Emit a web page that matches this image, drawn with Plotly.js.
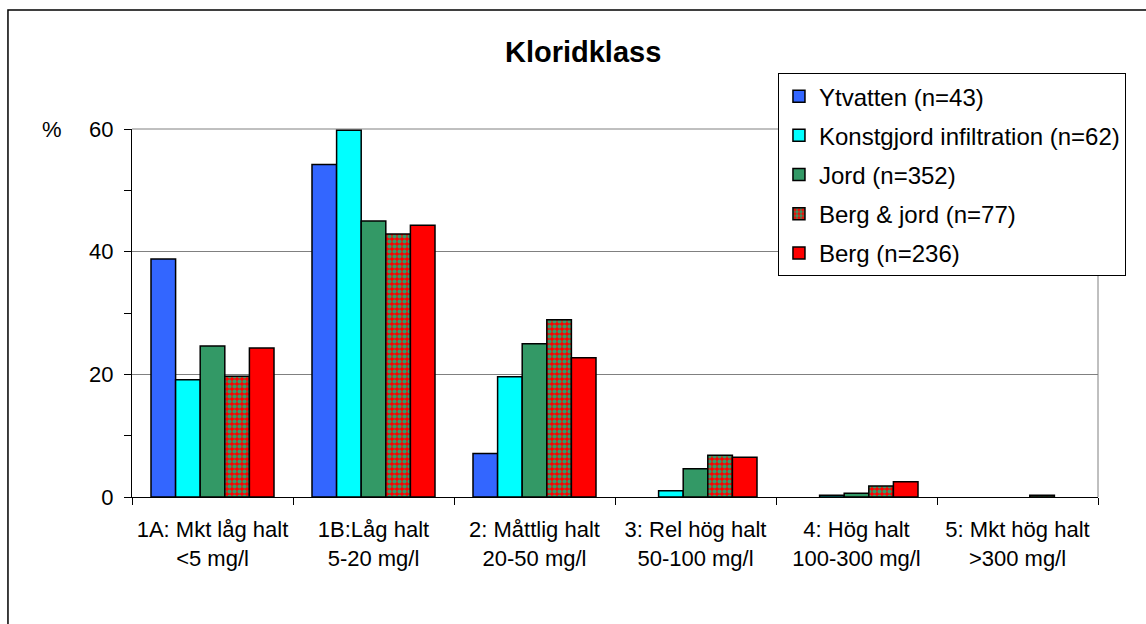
<!DOCTYPE html>
<html>
<head>
<meta charset="utf-8">
<script src="https://cdn.plot.ly/plotly-3.0.1.min.js"></script>
<style>html,body{margin:0;padding:0;background:#fff;}#chart{width:1146px;height:624px;}</style>
</head>
<body>
<div id="chart"></div>
<script>
const categories = [
  '1A: Mkt låg halt<br>&lt;5 mg/l',
  '1B:Låg halt<br>5-20 mg/l',
  '2: Måttlig halt<br>20-50 mg/l',
  '3: Rel hög halt<br>50-100 mg/l',
  '4: Hög halt<br>100-300 mg/l',
  '5: Mkt hög halt<br>&gt;300 mg/l'
];
const seriesNames = ['Ytvatten (n=43)', 'Konstgjord infiltration (n=62)', 'Jord (n=352)', 'Berg & jord (n=77)', 'Berg (n=236)'];
const ytvatten    = [38.8, 54.2, 7.1, 0, 0, 0];
const konstgjord  = [19.1, 59.8, 19.6, 1.0, 0.3, 0];
const jord        = [24.6, 45.0, 25.0, 4.6, 0.6, 0];
const bergJord    = [19.7, 42.9, 28.9, 6.8, 1.8, 0.3];
const berg        = [24.3, 44.3, 22.7, 6.5, 2.5, 0];
const yTickVals = [0, 20, 40, 60];

const FONT = 'Liberation Sans, Arial, sans-serif';
const values = [ytvatten, konstgjord, jord, bergJord, berg];
const colors = ['#3366FF', '#00FFFF', '#339966', '#FF0000', '#FF0000'];

const traces = values.map((v, i) => {
  const t = {
    type: 'bar', x: categories, y: v.map(d => (d === 0 ? null : d)), name: seriesNames[i],
    legendgroup: 'g' + i,
    marker: { color: colors[i], line: { color: '#000000', width: 1.5 } }
  };
  if (i === 3) {
    t.marker.pattern = { shape: '.', bgcolor: '#FF0000', fgcolor: '#339966', size: 5, solidity: 0.55, fillmode: 'replace' };
  }
  return t;
});

const layout = {
  width: 1146, height: 624,
  margin: { l: 132, r: 48, t: 129, b: 127, pad: 0 },
  paper_bgcolor: '#ffffff', plot_bgcolor: '#ffffff',
  font: { family: FONT, color: '#000000', size: 22 },
  title: { text: '<b>Kloridklass</b>', font: { family: FONT, size: 29, color: '#000' },
           x: 0.467, xref: 'paper', xanchor: 'center', y: 0.917, yref: 'container', yanchor: 'middle' },
  barmode: 'group', bargap: 0.236, bargroupgap: 0,
  showlegend: true,
  legend: {
    x: 0.6687, xanchor: 'left', y: 1.152, yanchor: 'top', xref: 'paper', yref: 'paper',
    bgcolor: '#ffffff', bordercolor: '#000000', borderwidth: 1,
    font: { family: FONT, size: 24, color: '#000' },
    traceorder: 'grouped', tracegroupgap: 5
  },
  xaxis: {
    type: 'category', tickson: 'boundaries', ticks: 'outside', ticklen: 7, tickcolor: '#000', tickwidth: 1,
    showline: true, linecolor: '#000', linewidth: 1, showgrid: false, zeroline: false,
    ticklabelstandoff: 13,
    tickfont: { family: FONT, size: 22, color: '#000' }, fixedrange: true
  },
  yaxis: {
    range: [0, 60], tickvals: yTickVals, ticks: 'outside', ticklen: 7, tickcolor: '#000', tickwidth: 1,
    showline: true, linecolor: '#000', linewidth: 1, showgrid: true, gridcolor: '#808080', gridwidth: 1,
    zeroline: false, ticklabelstandoff: 6,
    minor: { dtick: 10, ticks: 'outside', ticklen: 7, tickcolor: '#000', showgrid: false },
    tickfont: { family: FONT, size: 22, color: '#000' }, fixedrange: true
  },
  annotations: [
    { text: '%', xref: 'paper', yref: 'y', x: -0.083, y: 60, xanchor: 'center', yanchor: 'middle', showarrow: false,
      font: { family: FONT, size: 22, color: '#000' } }
  ],
  shapes: [
    { type: 'line', xref: 'paper', yref: 'paper', x0: 1, x1: 1, y0: 0, y1: 1, line: { color: '#808080', width: 1 } },
    { type: 'line', xref: 'paper', yref: 'paper', x0: 0, x1: 1, y0: 1, y1: 1, line: { color: '#808080', width: 1 }, layer: 'below' },
    { type: 'rect', xref: 'paper', yref: 'paper', x0: -0.1284, x1: 1.2, y0: -0.6, y1: 1.3234, line: { color: '#000000', width: 1.5 }, fillcolor: 'rgba(0,0,0,0)', layer: 'below' }
  ]
};

Plotly.newPlot('chart', traces, layout, { displayModeBar: false, staticPlot: true });
</script>
</body>
</html>
